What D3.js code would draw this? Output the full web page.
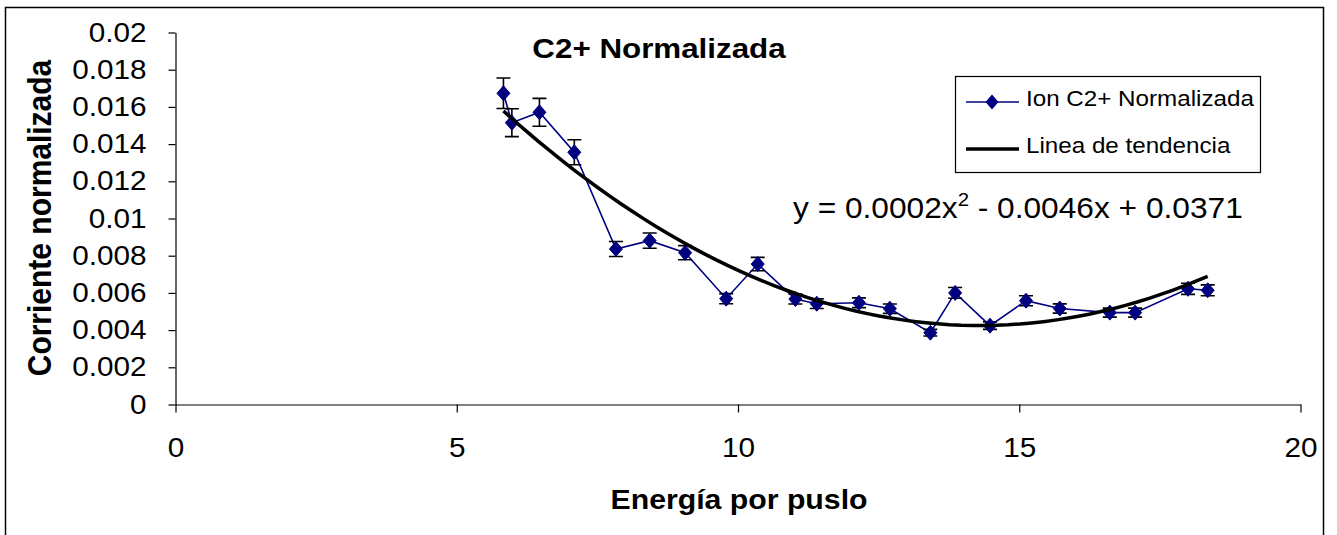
<!DOCTYPE html>
<html>
<head>
<meta charset="utf-8">
<script src="https://cdn.jsdelivr.net/npm/d3@7"></script>
<style>
  body { margin: 0; background: #fff; }
  svg { display: block; }
  text { font-family: "Liberation Sans", Arial, sans-serif; fill: #000; }
</style>
</head>
<body>
<svg id="chart" width="1337" height="535"></svg>
<script>
// Pulse energy (x) and normalized C2+ ion current (y) with its error
const energy = [5.83, 5.98, 6.47, 7.09, 7.83, 8.43, 9.06, 9.79, 10.35, 11.02, 11.40,
                12.15, 12.70, 13.42, 13.86, 14.48, 15.12, 15.72, 16.61, 17.06, 18.00, 18.35];
const current = [0.01673, 0.01515, 0.01571, 0.01356, 0.00836, 0.00881, 0.00816, 0.00569,
                 0.00755, 0.00567, 0.00542, 0.00547, 0.00515, 0.00386, 0.00600, 0.00424,
                 0.00558, 0.00516, 0.00494, 0.00494, 0.00622, 0.00614];
const currentErr = [0.00082, 0.00075, 0.00075, 0.00067, 0.00040, 0.00041, 0.00038, 0.00027,
                    0.00036, 0.00027, 0.00026, 0.00026, 0.00025, 0.00018, 0.00029, 0.00020,
                    0.00027, 0.00025, 0.00024, 0.00024, 0.00030, 0.00029];

const xTicks = [0, 5, 10, 15, 20];
const xTickLabels = ["0", "5", "10", "15", "20"];
const yTicks = [0, 0.002, 0.004, 0.006, 0.008, 0.01, 0.012, 0.014, 0.016, 0.018, 0.02];
const yTickLabels = ["0", "0.002", "0.004", "0.006", "0.008", "0.01", "0.012", "0.014", "0.016", "0.018", "0.02"];

const chartTitle = "C2+ Normalizada";
const xTitle = "Energía por puslo";
const yTitle = "Corriente normalizada";
const seriesName = "Ion C2+ Normalizada";
const trendName = "Linea de tendencia";
const equationParts = ["y = 0.0002x", "2", " - 0.0046x + 0.0371"];

const svg = d3.select("#chart");
const font = '"Liberation Sans", Arial, sans-serif';
const SX = 1.1; // text is drawn slightly widened horizontally

const x = d3.scaleLinear().domain([0, 20]).range([175.5, 1300.5]);
const y = d3.scaleLinear().domain([0, 0.02]).range([404.5, 32.5]);

// place a text element at (px, py), widened by SX around its anchor
function wideText(sel, px, py, extra = "") {
  return sel.append("text").attr("transform", `translate(${px},${py}) scale(${SX},1) ${extra}`);
}

// outer chart frame (bottom edge lies below the visible area)
svg.append("rect")
  .attr("x", 5.5).attr("y", 7.5).attr("width", 1318).attr("height", 700)
  .attr("fill", "#fff").attr("stroke", "#000").attr("stroke-width", 1.5);

// axes
const yAxis = svg.append("g")
  .attr("transform", `translate(${x(0)},0)`)
  .call(d3.axisLeft(y).tickValues(yTicks).tickFormat((d, i) => yTickLabels[i])
        .tickSize(7).tickSizeOuter(0).tickPadding(22));
const xAxis = svg.append("g")
  .attr("transform", `translate(0,${y(0)})`)
  .call(d3.axisBottom(x).tickValues(xTicks).tickFormat((d, i) => xTickLabels[i])
        .tickSize(8).tickSizeOuter(0).tickPadding(25));
[yAxis, xAxis].forEach(g => {
  g.attr("font-family", font).attr("font-size", 27);
  g.selectAll("path, line").attr("stroke", "#000").attr("stroke-width", 1.2);
  g.selectAll("text").attr("fill", "#000").each(function () {
    const t = d3.select(this);
    const tx = +t.attr("x") || 0;
    t.attr("x", tx / SX).attr("transform", `scale(${SX},1)`);
  });
});

// data series
const pts = energy.map((e, i) => ({ e, c: current[i], err: currentErr[i] }));
const navy = "#000080";

svg.append("path")
  .datum(pts)
  .attr("fill", "none").attr("stroke", navy).attr("stroke-width", 1.6)
  .attr("d", d3.line().x(d => x(d.e)).y(d => y(d.c)));

// error bars
const eb = svg.append("g").attr("stroke", "#000").attr("stroke-width", 1.6).attr("fill", "none");
eb.selectAll("path").data(pts).join("path")
  .attr("d", d => {
    const cx = x(d.e), y1 = y(d.c + d.err), y0 = y(d.c - d.err);
    return `M${cx},${y1}V${y0}M${cx - 7},${y1}H${cx + 7}M${cx - 7},${y0}H${cx + 7}`;
  });

// diamond markers
const diamond = "M0,-7.5L6.5,0L0,7.5L-6.5,0Z";
svg.append("g").selectAll("path").data(pts).join("path")
  .attr("d", diamond)
  .attr("transform", d => `translate(${x(d.e)},${y(d.c)})`)
  .attr("fill", navy).attr("stroke", navy).attr("stroke-width", 1);

// least-squares quadratic trend line through the data
function quadFit(xs, ys) {
  const S = Array.from({ length: 5 }, (_, k) => d3.sum(xs, v => v ** k));
  const T = [0, 1, 2].map(k => d3.sum(xs, (v, i) => ys[i] * v ** k));
  const A = [[S[0], S[1], S[2], T[0]], [S[1], S[2], S[3], T[1]], [S[2], S[3], S[4], T[2]]];
  for (let i = 0; i < 3; i++) {
    for (let j = i + 1; j < 3; j++) {
      const f = A[j][i] / A[i][i];
      for (let k = i; k < 4; k++) A[j][k] -= f * A[i][k];
    }
  }
  const c = [0, 0, 0];
  for (let i = 2; i >= 0; i--) {
    let s = A[i][3];
    for (let k = i + 1; k < 3; k++) s -= A[i][k] * c[k];
    c[i] = s / A[i][i];
  }
  return c;
}
const coef = quadFit(energy, current);
const [xmin, xmax] = d3.extent(energy);
const trend = d3.range(0, 61).map(i => {
  const xv = xmin + (xmax - xmin) * i / 60;
  return { e: xv, c: coef[0] + coef[1] * xv + coef[2] * xv * xv };
});
svg.append("path")
  .datum(trend)
  .attr("fill", "none").attr("stroke", "#000").attr("stroke-width", 3.5)
  .attr("stroke-linejoin", "round")
  .attr("d", d3.line().x(d => x(d.e)).y(d => y(d.c)));

// equation of the trend line
const eq = wideText(svg, 793, 218).attr("font-size", 28.8);
eq.append("tspan").text(equationParts[0]);
eq.append("tspan").attr("dy", -12).attr("font-size", 18.5).text(equationParts[1]);
eq.append("tspan").attr("dy", 12).text(equationParts[2]);

// titles
wideText(svg, 659, 58).attr("text-anchor", "middle")
  .attr("font-size", 28.5).attr("font-weight", "bold").text(chartTitle);
wideText(svg, 739, 509).attr("text-anchor", "middle")
  .attr("font-size", 27.5).attr("font-weight", "bold").text(xTitle);
wideText(svg, 51, 218, "rotate(-90)").attr("text-anchor", "middle")
  .attr("font-size", 30).attr("font-weight", "bold").text(yTitle);

// legend
const lg = svg.append("g");
lg.append("rect").attr("x", 955.5).attr("y", 76.5).attr("width", 305).attr("height", 96)
  .attr("fill", "#fff").attr("stroke", "#000").attr("stroke-width", 1.2);
lg.append("line").attr("x1", 966).attr("x2", 1019).attr("y1", 102).attr("y2", 102)
  .attr("stroke", navy).attr("stroke-width", 1.6);
lg.append("path").attr("d", diamond).attr("transform", "translate(992,102)").attr("fill", navy);
wideText(lg, 1026, 106).attr("font-size", 22).text(seriesName);
lg.append("line").attr("x1", 966).attr("x2", 1019).attr("y1", 149).attr("y2", 149)
  .attr("stroke", "#000").attr("stroke-width", 3.5);
wideText(lg, 1026, 153).attr("font-size", 22).text(trendName);
</script>
</body>
</html>
